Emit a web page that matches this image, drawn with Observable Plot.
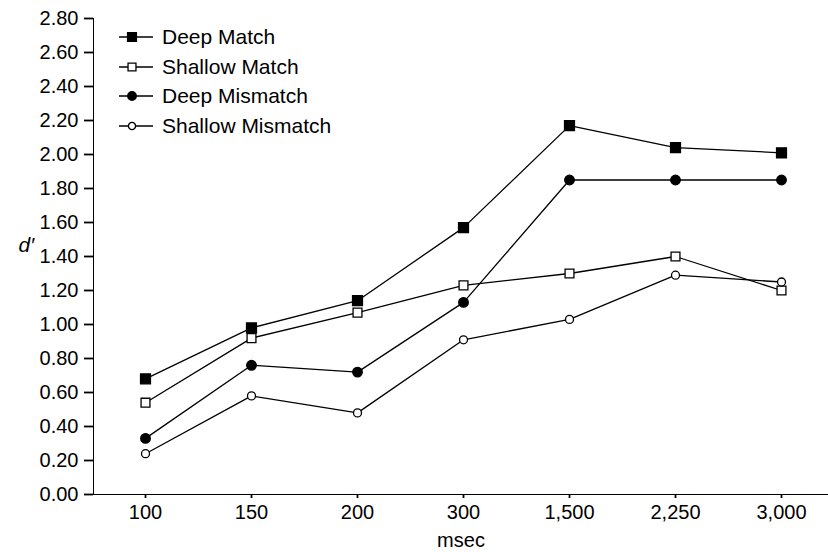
<!DOCTYPE html>
<html><head><meta charset="utf-8">
<script src="https://cdn.jsdelivr.net/npm/d3@7"></script>
<script src="https://cdn.jsdelivr.net/npm/@observablehq/plot@0.6"></script>
<style>
body{margin:0;background:#fff;}
#wrap{position:relative;width:828px;height:552px;font-family:"Liberation Sans",Arial,sans-serif;color:#000;}
#legend{position:absolute;left:119px;top:22px;}
.row{display:flex;align-items:center;height:29.7px;font-size:21px;}
.row svg{margin-right:7px;}
#wrap svg.plot g[aria-label*="axis"]{stroke-width:1.8;}
</style></head><body><div id="wrap"><div id="legend"></div></div>
<script>
const durations = ["100", "150", "200", "300", "1,500", "2,250", "3,000"];
const seriesNames = ["Deep Match", "Shallow Match", "Deep Mismatch", "Shallow Mismatch"];
const deepMatch = [0.68, 0.98, 1.14, 1.57, 2.17, 2.04, 2.01];
const shallowMatch = [0.54, 0.92, 1.07, 1.23, 1.30, 1.40, 1.20];
const deepMismatch = [0.33, 0.76, 0.72, 1.13, 1.85, 1.85, 1.85];
const shallowMismatch = [0.24, 0.58, 0.48, 0.91, 1.03, 1.29, 1.25];
const yTicks = [0, 0.2, 0.4, 0.6, 0.8, 1.0, 1.2, 1.4, 1.6, 1.8, 2.0, 2.2, 2.4, 2.6, 2.8];

const seriesValues = [deepMatch, shallowMatch, deepMismatch, shallowMismatch];
const markerStyle = [
  {symbol: "square", fill: "black", r: 5.6},
  {symbol: "square", fill: "white", r: 5.0},
  {symbol: "circle", fill: "black", r: 4.8},
  {symbol: "circle", fill: "white", r: 4.0}
];
const rows = [];
seriesNames.forEach((s, i) => durations.forEach((d, j) => rows.push({series: s, dur: d, v: seriesValues[i][j]})));

const marks = [
  Plot.line(rows, {x: "dur", y: "v", z: "series", stroke: "black", strokeWidth: 1.3}),
  ...seriesNames.map((s, i) => Plot.dot(rows.filter(r => r.series === s), {
    x: "dur", y: "v", symbol: markerStyle[i].symbol, r: markerStyle[i].r,
    fill: markerStyle[i].fill, stroke: "black", strokeWidth: 1.3
  })),
  Plot.text(["d\u2032"], {frameAnchor: "left", dx: -75, dy: -11, fontStyle: "italic", fontSize: 21})
];

const chart = Plot.plot({
  width: 828, height: 552,
  marginLeft: 93, marginRight: 0, marginTop: 18, marginBottom: 58,
  style: {fontFamily: "'Liberation Sans', Arial, sans-serif", fontSize: "20px", color: "black", background: "white"},
  x: {type: "point", domain: durations, range: [144, 781], padding: 0, tickSize: 4, tickPadding: 6,
      line: true, label: "msec", labelAnchor: "center", labelOffset: 52},
  y: {domain: [0, 2.8], ticks: yTicks, tickFormat: d3.format(".2f"), tickSize: 9, tickPadding: 6,
      line: true, label: null},
  marks
});
chart.classList.add("plot");
document.getElementById("wrap").prepend(chart);

const legend = document.getElementById("legend");
seriesNames.forEach((s, i) => {
  const row = document.createElement("div");
  row.className = "row";
  const svg = d3.create("svg").attr("width", 36).attr("height", 16);
  svg.append("line").attr("x1", 0).attr("x2", 34).attr("y1", 8).attr("y2", 8).attr("stroke", "black").attr("stroke-width", 1.3);
  const m = markerStyle[i];
  svg.append("path")
    .attr("d", d3.symbol(m.symbol === "square" ? d3.symbolSquare : d3.symbolCircle, m.r * m.r * Math.PI * 0.8)())
    .attr("transform", "translate(13,8)")
    .attr("fill", m.fill).attr("stroke", "black").attr("stroke-width", 1.3);
  row.appendChild(svg.node());
  const t = document.createElement("span");
  t.textContent = s;
  row.appendChild(t);
  legend.appendChild(row);
});
</script></body></html>
